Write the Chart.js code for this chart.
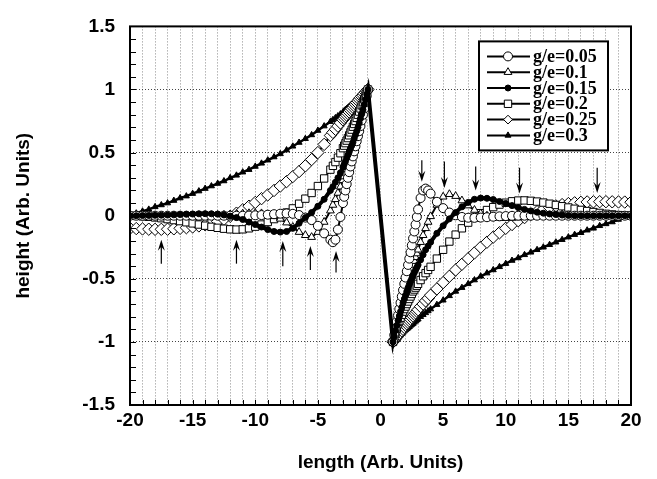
<!DOCTYPE html>
<html>
<head>
<meta charset="utf-8">
<script src="https://cdn.jsdelivr.net/npm/chart.js"></script>
<style>
  html, body { margin: 0; padding: 0; background: #fff; }
</style>
</head>
<body>
<canvas id="profileChart" width="657" height="479"></canvas>
<script>
// sample positions along the length axis
const xLeft = [-20, -19.5, -19, -18.5, -18, -17.5, -17, -16.5, -16, -15.5, -15, -14.5, -14, -13.5, -13, -12.5,
  -12, -11.5, -11, -10.5, -10, -9.5, -9, -8.5, -8, -7.5, -7, -6.5, -6, -5.5, -5, -4.5,
  -4, -3.8, -3.6, -3.4, -3.2, -3, -2.9, -2.8, -2.7, -2.6, -2.5, -2.4, -2.3, -2.2, -2.1, -2,
  -1.9, -1.8, -1.7, -1.6, -1.5, -1.4, -1.3, -1.2, -1.1, -1];
const xRight = [1, 1.1, 1.2, 1.3, 1.4, 1.5, 1.6, 1.7, 1.8, 1.9, 2, 2.1, 2.2, 2.3, 2.4, 2.5,
  2.6, 2.7, 2.8, 2.9, 3, 3.2, 3.4, 3.6, 3.8, 4,
  4.5, 5, 5.5, 6, 6.5, 7, 7.5, 8, 8.5, 9, 9.5, 10, 10.5, 11, 11.5, 12,
  12.5, 13, 13.5, 14, 14.5, 15, 15.5, 16, 16.5, 17, 17.5, 18, 18.5, 19, 19.5, 20];

// heights, left branch (x = -20 ... -1)
const g005Left = [0, 0, 0, 0, 0, 0, 0, 0, 0, 0, 0, 0, 0, 0, 0, 0,
  0, 0, 0, 0.001, 0.003, 0.005, 0.008, 0.012, 0.016, 0.018, 0.015, 0.005, -0.015, -0.035, -0.08, -0.14,
  -0.19, -0.21, -0.19, -0.11, -0.01, 0.1, 0.15, 0.2, 0.25, 0.3, 0.345, 0.39, 0.43, 0.47, 0.51, 0.55,
  0.59, 0.63, 0.67, 0.71, 0.755, 0.8, 0.85, 0.9, 0.95, 1];
const g01Left = [0, 0, 0, 0, 0, 0, 0, 0, 0, 0, 0, 0, 0.001, 0.002, 0.004, 0.006,
  0.009, 0.012, 0.016, 0.019, 0.02, 0.018, 0.01, -0.005, -0.025, -0.055, -0.09, -0.13, -0.155, -0.17, -0.13, -0.05,
  0.04, 0.085, 0.13, 0.18, 0.23, 0.28, 0.31, 0.34, 0.37, 0.4, 0.43, 0.46, 0.49, 0.52, 0.55, 0.58,
  0.615, 0.65, 0.69, 0.73, 0.77, 0.81, 0.855, 0.9, 0.95, 1];
const g015Left = [0, 0, 0.001, 0.002, 0.003, 0.004, 0.005, 0.007, 0.009, 0.011, 0.013, 0.015, 0.016, 0.015, 0.012, 0.006,
  -0.003, -0.015, -0.03, -0.05, -0.07, -0.09, -0.11, -0.125, -0.13, -0.125, -0.1, -0.06, -0.015, 0.025, 0.075, 0.13,
  0.2, 0.23, 0.265, 0.3, 0.34, 0.385, 0.407, 0.43, 0.455, 0.48, 0.505, 0.53, 0.555, 0.58, 0.61, 0.64,
  0.67, 0.7, 0.735, 0.77, 0.805, 0.84, 0.88, 0.92, 0.96, 1];
const g02Left = [0, -0.002, -0.005, -0.009, -0.014, -0.02, -0.027, -0.035, -0.043, -0.052, -0.061, -0.07, -0.079, -0.088, -0.096, -0.103,
  -0.108, -0.11, -0.108, -0.1, -0.087, -0.07, -0.05, -0.027, -0.003, 0.025, 0.058, 0.095, 0.135, 0.18, 0.235, 0.295,
  0.365, 0.395, 0.425, 0.46, 0.495, 0.535, 0.555, 0.575, 0.595, 0.615, 0.637, 0.66, 0.682, 0.705, 0.727, 0.75,
  0.775, 0.8, 0.825, 0.85, 0.875, 0.9, 0.925, 0.95, 0.975, 1];
const g025Left = [-0.1, -0.102, -0.105, -0.107, -0.108, -0.108, -0.107, -0.104, -0.1, -0.095, -0.089, -0.081, -0.072, -0.06, -0.046, -0.028,
  -0.005, 0.02, 0.047, 0.075, 0.105, 0.135, 0.165, 0.2, 0.235, 0.27, 0.31, 0.35, 0.395, 0.445, 0.5, 0.565,
  0.635, 0.66, 0.685, 0.71, 0.735, 0.76, 0.772, 0.785, 0.797, 0.81, 0.822, 0.835, 0.847, 0.86, 0.872, 0.885,
  0.897, 0.91, 0.922, 0.935, 0.945, 0.955, 0.967, 0.978, 0.989, 1];
const g03Left = [0, 0.02, 0.035, 0.05, 0.07, 0.085, 0.1, 0.12, 0.14, 0.155, 0.175, 0.195, 0.215, 0.235, 0.255, 0.275,
  0.3, 0.32, 0.345, 0.365, 0.39, 0.415, 0.44, 0.465, 0.49, 0.52, 0.55, 0.58, 0.61, 0.64, 0.675, 0.71,
  0.745, 0.76, 0.775, 0.79, 0.805, 0.82, 0.83, 0.84, 0.847, 0.855, 0.865, 0.875, 0.882, 0.89, 0.9, 0.91,
  0.917, 0.925, 0.935, 0.945, 0.952, 0.96, 0.97, 0.98, 0.99, 1];

// heights, right branch (x = 1 ... 20)
const g005Right = [-1, -0.945, -0.89, -0.84, -0.79, -0.74, -0.69, -0.64, -0.59, -0.54, -0.49, -0.44, -0.39, -0.34, -0.29, -0.235,
  -0.18, -0.125, -0.07, -0.01, 0.05, 0.14, 0.2, 0.215, 0.2, 0.175,
  0.11, 0.06, 0.025, 0.003, -0.01, -0.016, -0.017, -0.015, -0.012, -0.008, -0.005, -0.003, -0.001, 0, 0, 0,
  0, 0, 0, 0, 0, 0, 0, 0, 0, 0, 0, 0, 0, 0, 0, 0];
const g01Right = [-1, -0.95, -0.9, -0.855, -0.81, -0.77, -0.73, -0.69, -0.65, -0.615, -0.58, -0.545, -0.51, -0.48, -0.45, -0.42,
  -0.39, -0.36, -0.33, -0.3, -0.27, -0.21, -0.155, -0.1, -0.05, -0.005,
  0.085, 0.15, 0.17, 0.155, 0.12, 0.08, 0.045, 0.018, 0, -0.012, -0.018, -0.02, -0.018, -0.015, -0.011, -0.008,
  -0.005, -0.003, -0.002, -0.001, 0, 0, 0, 0, 0, 0, 0, 0, 0, 0, 0, 0];
const g015Right = [-1, -0.955, -0.91, -0.87, -0.83, -0.795, -0.76, -0.725, -0.69, -0.66, -0.63, -0.6, -0.57, -0.545, -0.52, -0.497,
  -0.475, -0.452, -0.43, -0.41, -0.39, -0.35, -0.31, -0.27, -0.24, -0.21,
  -0.14, -0.08, -0.025, 0.025, 0.07, 0.105, 0.13, 0.14, 0.138, 0.128, 0.113, 0.097, 0.08, 0.064, 0.05, 0.038,
  0.028, 0.02, 0.014, 0.009, 0.005, 0.002, 0, 0, 0, 0, 0, 0, 0, 0, 0, 0];
const g02Right = [-1, -0.965, -0.93, -0.895, -0.86, -0.835, -0.81, -0.785, -0.76, -0.74, -0.72, -0.7, -0.68, -0.66, -0.64, -0.62,
  -0.6, -0.585, -0.57, -0.555, -0.54, -0.51, -0.48, -0.455, -0.43, -0.405,
  -0.34, -0.27, -0.205, -0.15, -0.1, -0.055, -0.015, 0.02, 0.045, 0.068, 0.088, 0.103, 0.114, 0.12, 0.121, 0.118,
  0.112, 0.104, 0.095, 0.085, 0.075, 0.065, 0.055, 0.046, 0.037, 0.029, 0.022, 0.015, 0.01, 0.005, 0.002, 0];
const g025Right = [-1, -0.988, -0.975, -0.962, -0.95, -0.937, -0.925, -0.912, -0.9, -0.885, -0.87, -0.857, -0.845, -0.832, -0.82, -0.807,
  -0.795, -0.782, -0.77, -0.757, -0.745, -0.72, -0.7, -0.675, -0.655, -0.63,
  -0.58, -0.53, -0.48, -0.43, -0.385, -0.34, -0.295, -0.25, -0.21, -0.17, -0.135, -0.1, -0.07, -0.04, -0.015, 0.01,
  0.032, 0.05, 0.065, 0.078, 0.088, 0.096, 0.102, 0.106, 0.109, 0.11, 0.111, 0.111, 0.11, 0.109, 0.108, 0.107];
const g03Right = [-1, -0.99, -0.98, -0.97, -0.96, -0.952, -0.945, -0.935, -0.925, -0.915, -0.905, -0.897, -0.89, -0.88, -0.87, -0.862,
  -0.855, -0.845, -0.835, -0.827, -0.82, -0.8, -0.785, -0.77, -0.755, -0.74,
  -0.705, -0.67, -0.635, -0.6, -0.57, -0.54, -0.51, -0.48, -0.455, -0.43, -0.405, -0.38, -0.355, -0.335, -0.31, -0.29,
  -0.27, -0.25, -0.23, -0.21, -0.19, -0.17, -0.15, -0.135, -0.115, -0.1, -0.08, -0.065, -0.05, -0.03, -0.015, 0];

const seriesLabels = ['g/e=0.05', 'g/e=0.1', 'g/e=0.15', 'g/e=0.2', 'g/e=0.25', 'g/e=0.3'];
const leftSeries = [g005Left, g01Left, g015Left, g02Left, g025Left, g03Left];
const rightSeries = [g005Right, g01Right, g015Right, g02Right, g025Right, g03Right];

// arrows marking the first dip / bump of each curve (x, tail height, head height)
const arrowUpX = [-17.5, -11.5, -7.8, -5.6, -3.55];
const arrowUpFrom = [-0.38, -0.38, -0.4, -0.43, -0.45];
const arrowUpTo = [-0.19, -0.19, -0.2, -0.24, -0.28];
const arrowDownX = [3.3, 5.1, 7.6, 11.1, 17.3];
const arrowDownFrom = [0.44, 0.43, 0.39, 0.38, 0.38];
const arrowDownTo = [0.27, 0.22, 0.2, 0.175, 0.18];

// marker look per series (draw order: lower first on top)
const markerStyles = [
  { pointStyle: 'circle', radius: 4.5, fill: '#fff', line: 2, order: 0 },
  { pointStyle: 'triangle', radius: 4.5, fill: '#fff', line: 2, order: 1 },
  { pointStyle: 'circle', radius: 3, fill: '#000', line: 4, order: -1 },
  { pointStyle: 'rect', radius: 5.2, fill: '#fff', line: 2, order: 3 },
  { pointStyle: 'rectRot', radius: 6.2, fill: '#fff', line: 2, order: 4 },
  { pointStyle: 'triangle', radius: 3.5, fill: '#000', line: 2.5, order: 5 }
];

const sansBold = { family: "'Liberation Sans', Arial, sans-serif", size: 19, weight: 'bold' };

function isHalf(v) {
  return Math.abs(v * 2 - Math.round(v * 2)) < 1e-6;
}

function drawMarker(ctx, style, x, y) {
  const r = style.radius;
  ctx.fillStyle = style.fill;
  ctx.strokeStyle = '#000';
  ctx.lineWidth = 1;
  ctx.beginPath();
  if (style.pointStyle === 'circle') {
    ctx.arc(x, y, r, 0, Math.PI * 2);
  } else if (style.pointStyle === 'triangle') {
    ctx.moveTo(x, y - r);
    ctx.lineTo(x + r * 0.866, y + r * 0.5);
    ctx.lineTo(x - r * 0.866, y + r * 0.5);
    ctx.closePath();
  } else if (style.pointStyle === 'rect') {
    const s = r * Math.SQRT1_2;
    ctx.rect(x - s, y - s, 2 * s, 2 * s);
  } else {
    const s = r * Math.SQRT1_2;
    ctx.moveTo(x - s, y);
    ctx.lineTo(x, y - s);
    ctx.lineTo(x + s, y);
    ctx.lineTo(x, y + s);
    ctx.closePath();
  }
  ctx.fill();
  ctx.stroke();
}

function drawArrow(ctx, x, yTail, yHead) {
  const dir = Math.sign(yHead - yTail);
  ctx.beginPath();
  ctx.moveTo(x, yTail);
  ctx.lineTo(x, yHead - dir * 6);
  ctx.stroke();
  ctx.beginPath();
  ctx.moveTo(x, yHead);
  ctx.lineTo(x - 3.5, yHead - dir * 11);
  ctx.lineTo(x, yHead - dir * 7);
  ctx.lineTo(x + 3.5, yHead - dir * 11);
  ctx.closePath();
  ctx.fill();
}

// frame, inside minor ticks and arrows
const decorPlugin = {
  id: 'decor',
  afterDatasetsDraw(chart) {
    const { ctx, chartArea: a, scales: { x, y } } = chart;
    ctx.save();
    ctx.strokeStyle = '#000';
    ctx.fillStyle = '#000';
    ctx.lineWidth = 1.2;
    arrowUpX.forEach((v, i) => {
      drawArrow(ctx, x.getPixelForValue(v), y.getPixelForValue(arrowUpFrom[i]), y.getPixelForValue(arrowUpTo[i]));
    });
    arrowDownX.forEach((v, i) => {
      drawArrow(ctx, x.getPixelForValue(v), y.getPixelForValue(arrowDownFrom[i]), y.getPixelForValue(arrowDownTo[i]));
    });
    ctx.lineWidth = 1;
    ctx.beginPath();
    y.ticks.forEach(t => {
      const py = Math.round(y.getPixelForValue(t.value)) + 0.5;
      ctx.moveTo(a.left, py);
      ctx.lineTo(a.left + 6, py);
    });
    x.ticks.forEach(t => {
      const px = Math.round(x.getPixelForValue(t.value)) + 0.5;
      ctx.moveTo(px, a.bottom);
      ctx.lineTo(px, a.bottom - 5);
    });
    ctx.stroke();
    ctx.lineWidth = 2;
    ctx.strokeRect(a.left, a.top, a.right - a.left, a.bottom - a.top);
    ctx.restore();
  }
};

// boxed legend in the upper right corner
const legendBoxPlugin = {
  id: 'legendBox',
  afterDraw(chart) {
    const { ctx, chartArea: a } = chart;
    const left = a.right - 152;
    const top = a.top + 15;
    ctx.save();
    ctx.fillStyle = '#fff';
    ctx.fillRect(left, top, 129, 109);
    ctx.strokeStyle = '#000';
    ctx.lineWidth = 2;
    ctx.strokeRect(left, top, 129, 109);
    ctx.font = "bold 18px 'Liberation Serif', 'Times New Roman', serif";
    ctx.textBaseline = 'middle';
    seriesLabels.forEach((label, i) => {
      const ry = top + 15 + i * 15.8;
      ctx.strokeStyle = '#000';
      ctx.lineWidth = 2;
      ctx.beginPath();
      ctx.moveTo(left + 8, ry);
      ctx.lineTo(left + 51, ry);
      ctx.stroke();
      drawMarker(ctx, markerStyles[i], left + 29, ry);
      ctx.fillStyle = '#000';
      ctx.fillText(label, left + 54, ry + 1);
    });
    ctx.restore();
  }
};

const datasets = seriesLabels.map((label, i) => ({
  label: label,
  data: xLeft.map((x, j) => ({ x: x, y: leftSeries[i][j] }))
    .concat(xRight.map((x, j) => ({ x: x, y: rightSeries[i][j] }))),
  order: markerStyles[i].order,
  showLine: true,
  borderColor: '#000',
  borderWidth: markerStyles[i].line,
  pointStyle: markerStyles[i].pointStyle,
  pointRadius: markerStyles[i].radius,
  pointBackgroundColor: markerStyles[i].fill,
  pointBorderColor: '#000',
  pointBorderWidth: 1,
  tension: 0
}));

new Chart(document.getElementById('profileChart').getContext('2d'), {
  type: 'scatter',
  data: { datasets: datasets },
  options: {
    responsive: false,
    animation: false,
    layout: { padding: { left: 0, right: 26, top: 10, bottom: 0 } },
    plugins: { legend: { display: false }, tooltip: { enabled: false } },
    scales: {
      x: {
        type: 'linear',
        min: -20,
        max: 20,
        afterFit: s => { s.height = 74; },
        ticks: {
          stepSize: 1,
          autoSkip: false,
          maxRotation: 0,
          padding: 4,
          color: '#000',
          font: sansBold,
          callback: v => (v % 5 === 0 ? String(v) : '')
        },
        grid: { color: '#8a8a8a', lineWidth: 1, drawTicks: false },
        border: { display: false, dash: [1, 2] },
        title: { display: true, text: 'length (Arb. Units)', color: '#000', font: sansBold, padding: { top: 0, bottom: 5 } }
      },
      y: {
        min: -1.5,
        max: 1.5,
        afterFit: s => { s.width = 130; },
        ticks: {
          stepSize: 0.1,
          autoSkip: false,
          padding: 15,
          color: '#000',
          font: sansBold,
          callback: v => (isHalf(v) ? String(Math.round(v * 10) / 10) : '')
        },
        grid: {
          color: c => (isHalf(c.tick.value) ? '#444' : 'rgba(0,0,0,0)'),
          lineWidth: 1,
          drawTicks: false
        },
        border: { display: false, dash: [1, 2] },
        title: { display: true, text: 'height (Arb. Units)', color: '#000', font: sansBold, padding: { top: 12, bottom: 0 } }
      }
    }
  },
  plugins: [decorPlugin, legendBoxPlugin]
});
</script>
</body>
</html>
